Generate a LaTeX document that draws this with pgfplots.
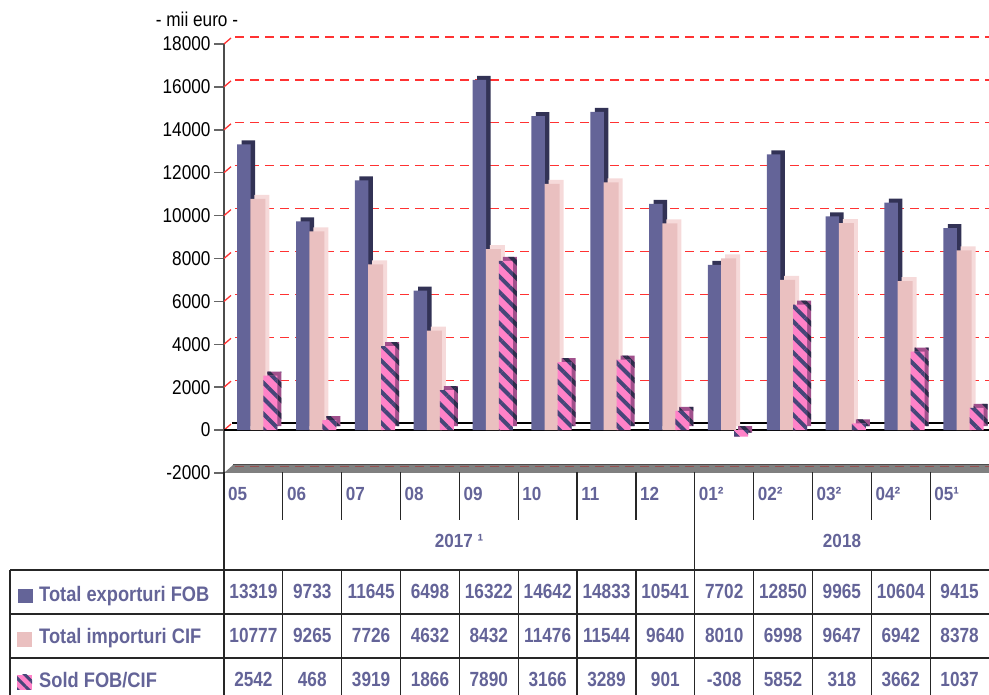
\documentclass[border=0pt]{standalone}
\usepackage{fontspec}
\setmainfont{Liberation Sans}
\newfontfamily\tickff[FakeStretch=0.86]{Liberation Sans}
\newfontfamily\numff[FakeStretch=0.84]{Liberation Sans}
\newfontfamily\rowff[FakeStretch=0.87]{Liberation Sans}
\newfontfamily\catff[FakeStretch=0.9]{Liberation Sans}
\usepackage{pgfplots}
\pgfplotsset{compat=1.18}
\usepackage{pgfplotstable}
\usetikzlibrary{patterns.meta}

\definecolor{expF}{RGB}{100,100,152}
\definecolor{expD}{RGB}{50,50,85}
\definecolor{impF}{RGB}{234,192,192}
\definecolor{impD}{RGB}{246,218,218}
\definecolor{soldF}{RGB}{255,130,200}
\definecolor{soldS}{RGB}{70,70,120}
\definecolor{soldD}{RGB}{160,80,140}
\definecolor{soldDS}{RGB}{45,45,75}
\definecolor{txt}{RGB}{100,100,152}
\definecolor{gridred}{RGB}{255,50,50}
\definecolor{floorgray}{RGB}{128,128,128}
\definecolor{floorline}{RGB}{150,80,80}

\newcommand\tickfont{\tickff\fontsize{20}{24}\selectfont}
\newcommand\numfont{\numff\fontsize{20.5}{24}\selectfont\bfseries}
\newcommand\rowfont{\rowff\fontsize{21}{25}\selectfont\bfseries}
\newcommand\catfont{\catff\fontsize{19}{23}\selectfont\bfseries}

\pgfplotstableread{
x exp imp sold
0 13319 10777 2542
1 9733 9265 468
2 11645 7726 3919
3 6498 4632 1866
4 16322 8432 7890
5 14642 11476 3166
6 14833 11544 3289
7 10541 9640 901
8 7702 8010 -308
9 12850 6998 5852
10 9965 9647 318
11 10604 6942 3662
12 9415 8378 1037
}\datatable

\begin{document}
\begin{tikzpicture}
\useasboundingbox (0pt,0pt) rectangle (989pt,695pt);
\begin{axis}[
  at={(224pt,222pt)}, anchor=south west,
  scale only axis, width=765pt, height=429pt,
  xmin=-0.5, xmax=12.5, ymin=-2000, ymax=18000,
  clip=false,
  axis x line=none,
  axis y line*=left,
  y axis line style={draw=black!70, line width=1.2pt},
  ytick={-2000,0,2000,4000,6000,8000,10000,12000,14000,16000,18000},
  scaled y ticks=false,
  ytick style={draw=black!60, line width=1.5pt},
  major tick length=10pt,
  tick align=outside,
  yticklabel style={font=\tickfont, /pgf/number format/1000 sep={}, /pgf/number format/assume math mode=true},
]
% floor
\fill[floorgray] (axis cs:-0.5,-2000) -- (axis cs:12.5,-2000) -- ([yshift=8pt]axis cs:12.5,-2000) -- ([xshift=9pt,yshift=8pt]axis cs:-0.5,-2000) -- cycle;
\draw[black!70, line width=1pt] ([xshift=9pt,yshift=8pt]axis cs:-0.5,-2000) -- ([yshift=8pt]axis cs:12.5,-2000);
\draw[floorline, line width=0.9pt, dash pattern=on 9pt off 6pt] ([xshift=11pt,yshift=7pt]axis cs:-0.5,-2000) -- ([yshift=7pt]axis cs:12.5,-2000);
% grid on back wall
\pgfplotsinvokeforeach{0,2000,4000,6000,8000,10000,12000,14000,16000,18000}{
  \draw[gridred, line width=1.3pt] (axis cs:-0.5,#1) -- ++(7pt,6pt);
  \draw[gridred, line width=1.3pt, dash pattern=on 9pt off 6pt] ([xshift=11pt,yshift=7pt]axis cs:-0.5,#1) -- ([yshift=7pt]axis cs:12.5,#1);
}
\draw[black, line width=1.2pt] ([xshift=8pt,yshift=7pt]axis cs:-0.5,0) -- ([yshift=7pt]axis cs:12.5,0);
\draw[black, line width=1.2pt] (axis cs:-0.5,0) -- (axis cs:12.5,0);
% bars
\addplot[ybar, bar width=13.5pt, bar shift=-9.5pt, xshift=4.5pt, yshift=4pt, fill=expD, draw=none] table[x=x,y=exp]{\datatable};
\addplot[ybar, bar width=13.5pt, bar shift=-9.5pt, fill=expF, draw=none] table[x=x,y=exp]{\datatable};
\addplot[ybar, bar width=15pt, bar shift=4.5pt, xshift=4pt, yshift=4pt, fill=impD, draw=none] table[x=x,y=imp]{\datatable};
\addplot[ybar, bar width=15pt, bar shift=4.5pt, fill=impF, draw=none] table[x=x,y=imp]{\datatable};
\addplot[ybar, bar width=14pt, bar shift=17pt, xshift=4pt, yshift=4pt, fill=soldD, draw=none,
  postaction={pattern={Lines[angle=-45,distance=11pt,line width=4pt]}, pattern color=soldDS}] table[x=x,y=sold]{\datatable};
\addplot[ybar, bar width=14pt, bar shift=17pt, fill=soldF, draw=none,
  postaction={pattern={Lines[angle=-45,distance=11pt,line width=4pt]}, pattern color=soldS}] table[x=x,y=sold]{\datatable};
% table numbers
\addplot[draw=none, mark=none, point meta=explicit symbolic, nodes near coords,
  every node near coord/.append style={anchor=base, font=\numfont, text=txt}] table[x=x, y expr=-7874, meta=exp]{\datatable};
\addplot[draw=none, mark=none, point meta=explicit symbolic, nodes near coords,
  every node near coord/.append style={anchor=base, font=\numfont, text=txt}] table[x=x, y expr=-9925, meta=imp]{\datatable};
\addplot[draw=none, mark=none, point meta=explicit symbolic, nodes near coords,
  every node near coord/.append style={anchor=base, font=\numfont, text=txt}] table[x=x, y expr=-11977, meta=sold]{\datatable};
\end{axis}

\begin{scope}[x=1pt,y=1pt]
  \begin{scope}[black!85, line width=1.2pt]
    \draw (224,223) -- (224,0);
    \draw (694.77,223) -- (694.77,0);
    \foreach \k in {1,...,12} {
      \draw ({224+58.846*\k},223) -- ({224+58.846*\k},175);
      \draw ({224+58.846*\k},125) -- ({224+58.846*\k},0);
    }
    \draw (10,125) -- (989,125);
    \draw (10,81) -- (989,81);
    \draw (10,37) -- (989,37);
    \draw (10,125) -- (10,0);
  \end{scope}
  \foreach \lab [count=\k from 0] in {05,06,07,08,09,10,11,12,01²,02²,03²,04²,05¹} {
    \node[anchor=base west, inner sep=0, font=\catfont, text=txt] at ({224+58.846*\k+4},194) {\lab};
  }
  \node[anchor=base, font=\catfont, text=txt] at (459,147) {2017 ¹};
  \node[anchor=base, font=\catfont, text=txt] at (842,147) {2018};
  \node[anchor=base west, inner sep=0, font=\rowfont, text=txt] at (39,93) {Total exporturi FOB};
  \node[anchor=base west, inner sep=0, font=\rowfont, text=txt] at (39,51) {Total importuri CIF};
  \node[anchor=base west, inner sep=0, font=\rowfont, text=txt] at (39,7) {Sold FOB/CIF};
  \node[anchor=base, font=\tickfont] at (197,668) {- mii euro -};
  \fill[expF] (18,92) rectangle (33,106);
  \fill[impF] (17,48) rectangle (32,63);
  \fill[soldF, postaction={pattern={Lines[angle=-45,distance=8pt,line width=3pt]}, pattern color=soldS}] (17,5) rectangle (32,20);
\end{scope}
\end{tikzpicture}
\end{document}
